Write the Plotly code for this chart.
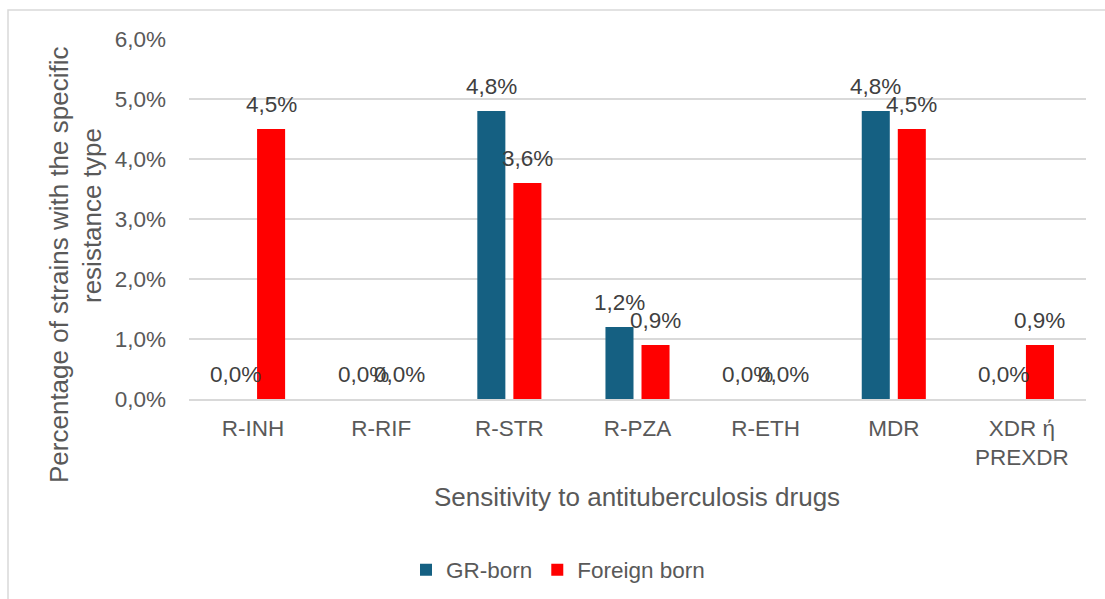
import plotly.graph_objects as go

# Resistance profile by place of birth (share of strains)
categories = ["R-INH", "R-RIF", "R-STR", "R-PZA", "R-ETH", "MDR", "XDR ή PREXDR"]
tick_labels = ["R-INH", "R-RIF", "R-STR", "R-PZA", "R-ETH", "MDR", "XDR ή<br>PREXDR"]
gr_born = [0.000, 0.000, 0.048, 0.012, 0.000, 0.048, 0.000]
foreign_born = [0.045, 0.000, 0.036, 0.009, 0.000, 0.045, 0.009]
y_ticks = [0.00, 0.01, 0.02, 0.03, 0.04, 0.05, 0.06]

FONT = "Liberation Sans, Arial, sans-serif"
TICK_GREY = "#595959"
LABEL_GREY = "#404040"
GRID = "#d9d9d9"

W, H = 1105, 599
ML, MR, MT, MB = 189, 19, 39, 200
PW = W - ML - MR
PH = H - MT - MB


def px_to_paper_x(px):
    return (px - ML) / PW


def px_to_paper_y(py):
    return (H - MB - py) / PH


def pct(v):
    return f"{v * 100:.1f}%".replace(".", ",")


fig = go.Figure()
fig.add_trace(go.Bar(name="GR-born", x=categories, y=gr_born,
                     marker=dict(color="#156082", line=dict(width=0))))
fig.add_trace(go.Bar(name="Foreign born", x=categories, y=foreign_born,
                     marker=dict(color="#ff0000", line=dict(width=0))))

# data labels above each bar
annotations = []
for series, shift in ((gr_born, -18), (foreign_born, 18)):
    for cat, v in zip(categories, series):
        annotations.append(dict(
            x=cat, y=v, xref="x", yref="y", text=pct(v), showarrow=False,
            xanchor="center", yanchor="middle", xshift=shift, yshift=25,
            font=dict(family=FONT, size=22.5, color=LABEL_GREY)))

# axis titles
annotations.append(dict(
    x=px_to_paper_x(637), y=px_to_paper_y(497), xref="paper", yref="paper",
    text="Sensitivity to antituberculosis drugs", showarrow=False,
    xanchor="center", yanchor="middle",
    font=dict(family=FONT, size=26, color=TICK_GREY)))
annotations.append(dict(
    x=px_to_paper_x(59), y=px_to_paper_y(265), xref="paper", yref="paper",
    text="Percentage of strains with the specific", showarrow=False,
    textangle=-90, xanchor="center", yanchor="middle",
    font=dict(family=FONT, size=26, color=TICK_GREY)))
annotations.append(dict(
    x=px_to_paper_x(92), y=px_to_paper_y(216), xref="paper", yref="paper",
    text="resistance type", showarrow=False,
    textangle=-90, xanchor="center", yanchor="middle",
    font=dict(family=FONT, size=26, color=TICK_GREY)))

# outer chart frame
shapes = [dict(type="rect", xref="paper", yref="paper",
               x0=px_to_paper_x(8), x1=px_to_paper_x(1115),
               y0=px_to_paper_y(610), y1=px_to_paper_y(10),
               line=dict(color=GRID, width=1.5), fillcolor="rgba(0,0,0,0)",
               layer="below")]

fig.update_layout(
    width=W, height=H,
    margin=dict(l=ML, r=MR, t=MT, b=MB, pad=0, autoexpand=False),
    paper_bgcolor="white", plot_bgcolor="white",
    barmode="group", bargap=0.4375, bargroupgap=0.222,
    separators=",.",
    font=dict(family=FONT, size=22, color=TICK_GREY),
    showlegend=True,
    legend=dict(orientation="h", x=px_to_paper_x(558), y=px_to_paper_y(570),
                xanchor="center", yanchor="middle",
                font=dict(family=FONT, size=22.5, color=TICK_GREY),
                bgcolor="rgba(0,0,0,0)", itemwidth=30, traceorder="normal"),
    annotations=annotations,
    shapes=shapes,
)
fig.update_xaxes(
    tickvals=categories, ticktext=tick_labels,
    showgrid=False, showline=True, linecolor=GRID, linewidth=1.5,
    ticks="", tickfont=dict(family=FONT, size=22.5, color=TICK_GREY),
    ticklabelstandoff=8,
)
fig.update_yaxes(
    range=[0, 0.06], tickvals=y_ticks, tickformat=".1%",
    showgrid=True, gridcolor=GRID, gridwidth=1.5,
    zeroline=False, showline=False, ticks="",
    tickfont=dict(family=FONT, size=22.5, color=TICK_GREY),
    ticklabelstandoff=22,
)

fig.write_html("out.html")
